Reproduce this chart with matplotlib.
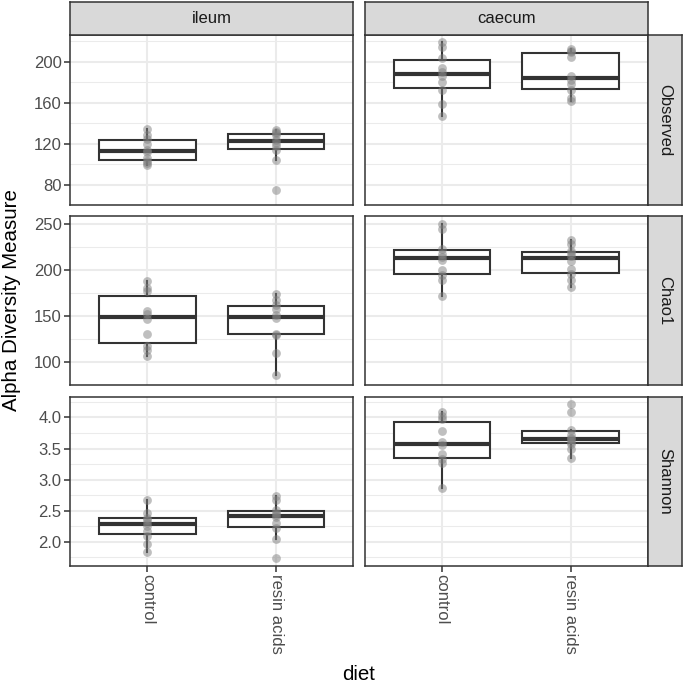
import matplotlib
matplotlib.use('Agg')
import matplotlib.pyplot as plt
import numpy as np

plt.rcParams['font.family'] = ['Liberation Sans', 'DejaVu Sans']

# data (one list per box)
diets = ['control', 'resin acids']
sites = ['ileum', 'caecum']
measures = ['Observed', 'Chao1', 'Shannon']

obs_ileum_control = [99, 101, 103, 106, 112, 114, 120, 125, 128, 134]
obs_ileum_resin = [75, 104, 114, 118, 121, 124, 128, 130, 131, 133]
obs_caecum_control = [147, 159, 172, 180, 186, 190, 194, 204, 214, 219]
obs_caecum_resin = [162, 165, 172, 178, 182, 186, 205, 210, 211, 213]

chao_ileum_control = [107, 113, 117, 131, 147, 152, 156, 177, 181, 188]
chao_ileum_resin = [86, 110, 130, 131, 148, 151, 158, 162, 168, 174]
chao_caecum_control = [172, 190, 195, 200, 211, 215, 218, 223, 245, 251]
chao_caecum_resin = [182, 189, 196, 202, 210, 216, 219, 221, 229, 233]

shan_ileum_control = [1.83, 1.97, 2.10, 2.18, 2.26, 2.31, 2.35, 2.39, 2.47, 2.68]
shan_ileum_resin = [1.74, 2.04, 2.22, 2.30, 2.40, 2.43, 2.46, 2.51, 2.68, 2.73]
shan_caecum_control = [2.87, 3.26, 3.33, 3.42, 3.55, 3.60, 3.78, 3.98, 4.03, 4.09]
shan_caecum_resin = [3.35, 3.50, 3.58, 3.61, 3.65, 3.67, 3.72, 3.80, 4.08, 4.21]

y_major = [[80, 120, 160, 200], [100, 150, 200, 250], [2.0, 2.5, 3.0, 3.5, 4.0]]
y_labels = [['80', '120', '160', '200'], ['100', '150', '200', '250'],
            ['2.0', '2.5', '3.0', '3.5', '4.0']]
y_minor = [[60, 100, 140, 180, 220], [75, 125, 175, 225], [1.75, 2.25, 2.75, 3.25, 3.75, 4.25]]

panels = [
    [[obs_ileum_control, obs_ileum_resin], [obs_caecum_control, obs_caecum_resin]],
    [[chao_ileum_control, chao_ileum_resin], [chao_caecum_control, chao_caecum_resin]],
    [[shan_ileum_control, shan_ileum_resin], [shan_caecum_control, shan_caecum_resin]],
]

W, H = 685, 684
fig = plt.figure(figsize=(W / 100, H / 100), dpi=100)


def rect(x0, y0, x1, y1):
    return [x0 / W, 1 - y1 / H, (x1 - x0) / W, (y1 - y0) / H]


col_x = [(70, 353.3), (364.7, 648)]
row_y = [(35, 205), (216, 385), (396.7, 565.7)]
dark = '#333333'
gridc = '#EBEBEB'

for r in range(3):
    allv = np.concatenate([np.array(v) for col in panels[r] for v in col])
    lo, hi = allv.min(), allv.max()
    pad = (hi - lo) * 0.05
    for c in range(2):
        ax = fig.add_axes(rect(col_x[c][0], row_y[r][0], col_x[c][1], row_y[r][1]))
        data = panels[r][c]
        ax.boxplot(data, positions=[1, 2], widths=0.75, whis=1.5,
                   showfliers=False, showcaps=False, patch_artist=True,
                   boxprops=dict(facecolor='white', edgecolor=dark, linewidth=1.5),
                   medianprops=dict(color=dark, linewidth=3.0),
                   whiskerprops=dict(color=dark, linewidth=1.5), zorder=2)
        for i, vals in enumerate(data):
            ax.scatter(np.full(len(vals), i + 1), vals, s=40, color='#808080',
                       alpha=0.5, linewidths=0, zorder=3)
        ax.set_xlim(0.4, 2.6)
        ax.set_ylim(lo - pad, hi + pad)
        ax.set_yticks(y_major[r], y_labels[r])
        ax.set_yticks(y_minor[r], minor=True)
        ax.set_xticks([1, 2], diets, rotation=270)
        ax.set_axisbelow(True)
        ax.grid(which='major', color=gridc, linewidth=1.5)
        ax.grid(which='minor', axis='y', color=gridc, linewidth=0.75)
        ax.tick_params(which='minor', length=0)
        ax.tick_params(axis='y', labelleft=(c == 0), length=4 if c == 0 else 0,
                       color=dark, width=1.1, labelcolor='#4D4D4D', labelsize=12, pad=2)
        ax.tick_params(axis='x', labelbottom=(r == 2), length=4 if r == 2 else 0,
                       color=dark, width=1.1, labelcolor='#4D4D4D', labelsize=12, pad=2)
        for s in ax.spines.values():
            s.set_color(dark)
            s.set_linewidth(1.1)

# top strips
for c in range(2):
    sa = fig.add_axes(rect(col_x[c][0], 2, col_x[c][1], 35))
    sa.set_facecolor('#D9D9D9')
    sa.set_xticks([])
    sa.set_yticks([])
    for s in sa.spines.values():
        s.set_color(dark)
        s.set_linewidth(1.1)
    sa.text(0.5, 0.5, sites[c], ha='center', va='center', fontsize=12,
            color='#1A1A1A', transform=sa.transAxes)

# right strips
for r in range(3):
    sa = fig.add_axes(rect(648, row_y[r][0], 682, row_y[r][1]))
    sa.set_facecolor('#D9D9D9')
    sa.set_xticks([])
    sa.set_yticks([])
    for s in sa.spines.values():
        s.set_color(dark)
        s.set_linewidth(1.1)
    sa.text(0.5, 0.5, measures[r], ha='center', va='center', fontsize=12,
            rotation=270, color='#1A1A1A', transform=sa.transAxes)

fig.text(12 / W, 1 - 300 / H, 'Alpha Diversity Measure', rotation=90,
         ha='center', va='center', fontsize=14.8)
fig.text(359 / W, 1 - 675 / H, 'diet', ha='center', va='center', fontsize=14.8)

fig.savefig('out.png', dpi=100)
